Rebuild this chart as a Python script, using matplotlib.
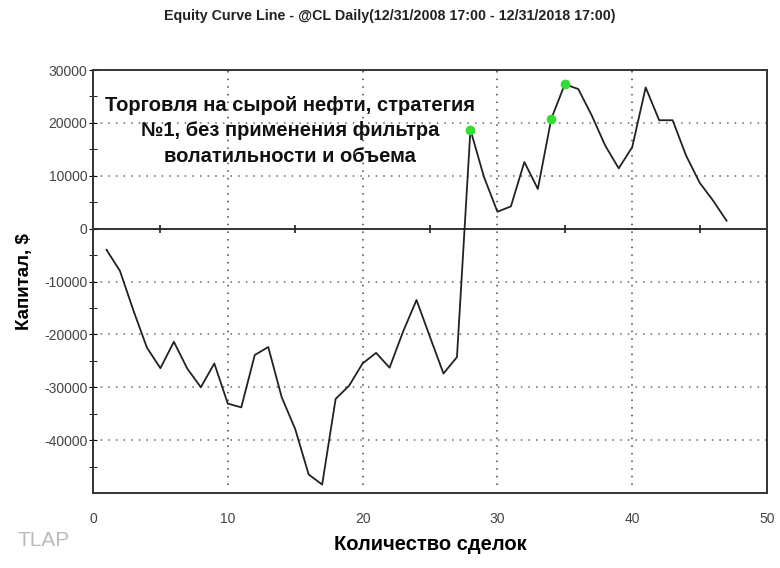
import numpy as np
import matplotlib
matplotlib.use("Agg")
import matplotlib.pyplot as plt

plt.rcParams['font.family'] = ['Liberation Sans', 'DejaVu Sans']
plt.rcParams['axes.unicode_minus'] = False

# equity after each trade
trades = list(range(1, 48))
equity = [-4000, -8000, -15500, -22500, -26400, -21400, -26500, -30000, -25500, -33100,
          -33800, -23900, -22400, -31900, -37900, -46500, -48400, -32200, -29700, -25500,
          -23500, -26300, -19500, -13500, -20500, -27400, -24300, 18700, 9800, 3200,
          4200, 12600, 7500, 20800, 27300, 26400, 21400, 15700, 11400, 15400,
          26700, 20500, 20500, 13800, 8700, 5300, 1500]
# new equity highs marked green
highs = [28, 34, 35]

title = "Equity Curve Line - @CL Daily(12/31/2008 17:00 - 12/31/2018 17:00)"
note = "Торговля на сырой нефти, стратегия\n№1, без применения фильтра\nволатильности и объема"

fig = plt.figure(figsize=(7.8, 5.68), dpi=100)
ax = fig.add_axes([93/780, 1-493/568, 674/780, 423/568])

ax.set_xlim(0, 50)
ax.set_ylim(-50000, 30000)

# grid
for yv in [20000, 10000, -10000, -20000, -30000, -40000]:
    ax.axhline(yv, color='#666', lw=1.1, ls=(0, (1, 4)), zorder=1)
ax.vlines([10, 20, 30, 40], -48500, 30000, colors='#444', lw=1.1, linestyles=(0, (1, 4)), zorder=1)

# zero line with small ticks
ax.axhline(0, color='#222', lw=1.3, zorder=2)
ax.plot(np.arange(5, 50, 10), np.zeros(5), ls='none', marker='|', ms=6, mew=1.2, color='#222', zorder=2)

ax.plot(trades, equity, color='#222', lw=1.3, zorder=3)
hy = [equity[trades.index(t)] for t in highs]
ax.plot(highs, hy, ls='none', marker='o', ms=6, color='#33dd33', mec='#33dd33', zorder=4)

ax.set_xticks([0, 10, 20, 30, 40, 50])
ax.set_yticks([30000, 20000, 10000, 0, -10000, -20000, -30000, -40000])
ax.set_yticks(np.arange(-45000, 30000, 5000), minor=True)
ax.tick_params(axis='x', length=0, pad=14, labelsize=10, labelcolor='#444')
ax.tick_params(axis='y', which='major', length=6, direction='inout', pad=1, labelsize=10, labelcolor='#444')
ax.tick_params(axis='y', which='minor', length=6, direction='inout')
for s in ax.spines.values():
    s.set_color('#333')
    s.set_linewidth(1.4)

ax.set_xlabel("Количество сделок", fontsize=14.5, fontweight='bold', labelpad=6)
ax.set_ylabel("Капитал, $", fontsize=13.5, fontweight='bold', labelpad=8)

ax.text(0.292, 0.856, note, transform=ax.transAxes, ha='center', va='center',
        fontsize=14.5, fontweight='bold', linespacing=1.45, color='#111', zorder=5)

fig.text(0.5, 1-16/568, title, ha='center', va='center', fontsize=10.3, fontweight='bold', color='#222')
fig.text(18/780, 1-540/568, "TLAP", ha='left', va='center', fontsize=15, color='#bbbbbb')

fig.savefig("out.png", dpi=100)
